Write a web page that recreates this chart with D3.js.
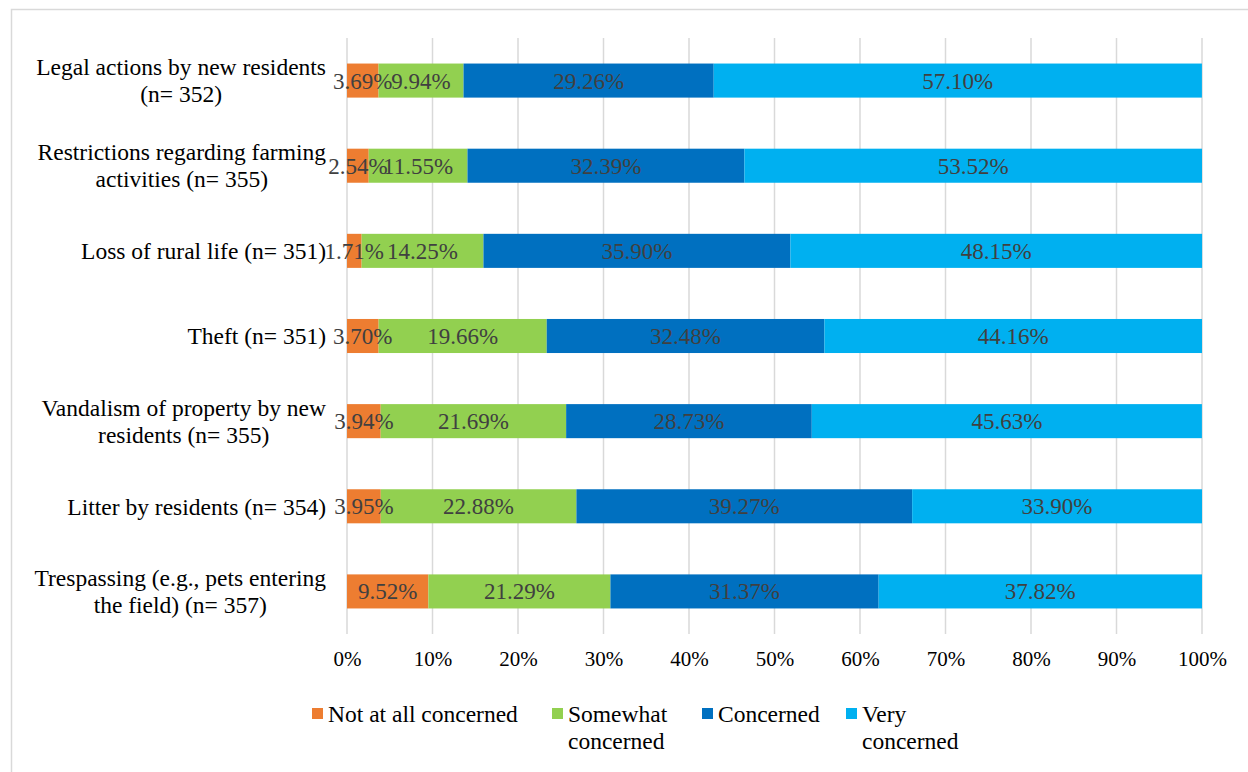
<!DOCTYPE html>
<html><head><meta charset="utf-8">
<script src="https://cdn.jsdelivr.net/npm/d3@7"></script>
<style>body{margin:0;background:#fff;} svg{display:block;}</style>
</head><body>
<svg id="chart" width="1248" height="772"></svg>
<script>
const categories = [
  ["Legal actions by new residents", "(n= 352)"],
  ["Restrictions regarding farming", "activities (n= 355)"],
  ["Loss of rural life (n= 351)"],
  ["Theft (n= 351)"],
  ["Vandalism of property by new", "residents (n= 355)"],
  ["Litter by residents (n= 354)"],
  ["Trespassing (e.g., pets entering", "the field) (n= 357)"]
];
const seriesNames = ["Not at all concerned", "Somewhat concerned", "Concerned", "Very concerned"];
const legendLines = [["Not at all concerned"], ["Somewhat", "concerned"], ["Concerned"], ["Very", "concerned"]];
const notAtAll  = [3.69, 2.54, 1.71, 3.70, 3.94, 3.95, 9.52];
const somewhat  = [9.94, 11.55, 14.25, 19.66, 21.69, 22.88, 21.29];
const concerned = [29.26, 32.39, 35.90, 32.48, 28.73, 39.27, 31.37];
const veryConc  = [57.10, 53.52, 48.15, 44.16, 45.63, 33.90, 37.82];
const tickValues = [0, 10, 20, 30, 40, 50, 60, 70, 80, 90, 100];
const colors = ["#ED7D31", "#92D050", "#0070C0", "#00B0F0"];

const series = [notAtAll, somewhat, concerned, veryConc];
const font = "'Liberation Serif', 'Times New Roman', serif";
const svg = d3.select("#chart");

svg.append("rect").attr("x", 11.5).attr("y", 9.5).attr("width", 1248).attr("height", 780)
  .attr("fill", "#fff").attr("stroke", "#d9d9d9").attr("stroke-width", 1.5);

const x = d3.scaleLinear().domain([0, 100]).range([347, 1202]);
const y = d3.scaleBand().domain(d3.range(categories.length)).range([38, 634]).paddingInner(0.6).paddingOuter(0.3);

// gridlines
svg.append("g").selectAll("line").data(tickValues).join("line")
  .attr("x1", d => x(d)).attr("x2", d => x(d))
  .attr("y1", 38).attr("y2", 634)
  .attr("stroke", "#d9d9d9").attr("stroke-width", 1.5);

// x axis labels
const xAxis = d3.axisBottom(x).tickValues(tickValues).tickFormat(d => d + "%").tickSize(0).tickPadding(0);
const gx = svg.append("g").attr("transform", "translate(0,651)").call(xAxis);
gx.select(".domain").remove();
gx.selectAll("text").attr("font-family", font).attr("font-size", 21).attr("fill", "#000").attr("dy", "0.71em");

// stacked bars
const stacked = categories.map((c, i) => {
  let acc = 0;
  return series.map((s, k) => { const r = {i, k, x0: acc, x1: acc + s[i], v: s[i]}; acc += s[i]; return r; });
}).flat();

svg.append("g").selectAll("rect").data(stacked).join("rect")
  .attr("x", d => x(d.x0)).attr("width", d => x(d.x1) - x(d.x0))
  .attr("y", d => y(d.i)).attr("height", y.bandwidth())
  .attr("fill", d => colors[d.k]);

svg.append("g").selectAll("text").data(stacked).join("text")
  .attr("x", d => (x(d.x0) + x(d.x1)) / 2)
  .attr("y", d => y(d.i) + y.bandwidth() / 2)
  .attr("dy", "0.35em").attr("text-anchor", "middle")
  .attr("font-family", font).attr("font-size", 23).attr("fill", "#404040")
  .text(d => d.v.toFixed(2) + "%");

// category labels
const catG = svg.append("g");
categories.forEach((lines, i) => {
  const cy = y(i) + y.bandwidth() / 2;
  const lh = 27;
  const g = catG.append("g");
  const texts = lines.map((l, j) => g.append("text")
    .attr("font-family", font).attr("font-size", 23.5).attr("fill", "#000")
    .attr("y", cy + (j - (lines.length - 1) / 2) * lh).attr("dy", "0.35em")
    .attr("text-anchor", "middle").text(l));
  const maxW = d3.max(texts, t => t.node().getComputedTextLength());
  const right = 326;
  texts.forEach(t => t.attr("x", right - maxW / 2));
});

// legend
const legX = [312, 552, 702, 846];
const legG = svg.append("g");
seriesNames.forEach((n, k) => {
  legG.append("rect").attr("x", legX[k]).attr("y", 708).attr("width", 11).attr("height", 11).attr("fill", colors[k]);
  legendLines[k].forEach((l, j) => {
    legG.append("text").attr("x", legX[k] + 16).attr("y", 714 + j * 27).attr("dy", "0.35em")
      .attr("font-family", font).attr("font-size", 23.5).attr("fill", "#000").text(l);
  });
});
</script>
</body></html>
